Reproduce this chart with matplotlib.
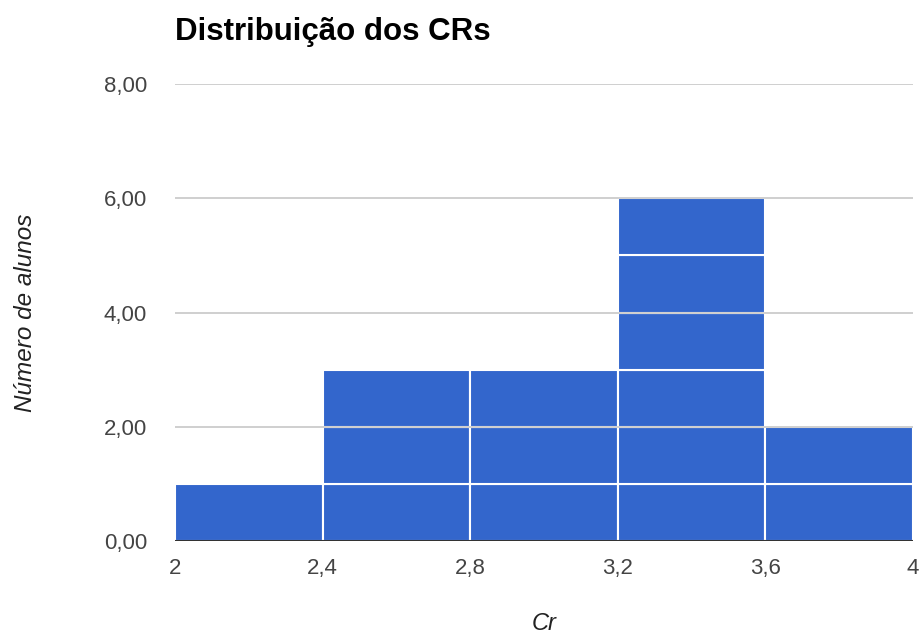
import numpy as np
import matplotlib
matplotlib.use('Agg')
import matplotlib.pyplot as plt

plt.rcParams['font.family'] = ['Liberation Sans', 'DejaVu Sans']

bin_edges = [2.0, 2.4, 2.8, 3.2, 3.6, 4.0]
counts = [1, 3, 3, 6, 2]
x_ticks = [2.0, 2.4, 2.8, 3.2, 3.6, 4.0]
x_tick_labels = ['2', '2,4', '2,8', '3,2', '3,6', '4']
y_ticks = [0, 2, 4, 6, 8]
y_tick_labels = ['0,00', '2,00', '4,00', '6,00', '8,00']

bar_color = '#3366cc'

fig = plt.figure(figsize=(9.2, 6.39), dpi=100)
ax = fig.add_axes([0.1902, 0.1534, 0.8022, 0.7151])

# each student is its own block, stacked like the google histogram
for i, c in enumerate(counts):
    left = bin_edges[i]
    width = bin_edges[i + 1] - bin_edges[i]
    for k in range(c):
        ax.bar(left, 1, width=width, bottom=k, align='edge', color=bar_color,
               edgecolor='white', linewidth=1.5, zorder=2)

for y in y_ticks[1:]:
    ax.axhline(y, color='#cccccc', linewidth=1.3, zorder=3)
ax.axhline(0, color='#333333', linewidth=1.5, zorder=4)

ax.set_xlim(2, 4)
ax.set_ylim(0, 8)
ax.set_xticks(x_ticks)
ax.set_xticklabels(x_tick_labels)
ax.set_yticks(y_ticks)
ax.set_yticklabels(y_tick_labels)
ax.tick_params(axis='both', length=0, labelsize=16, labelcolor='#444444')
ax.tick_params(axis='y', pad=20)
ax.tick_params(axis='x', pad=12)
for s in ax.spines.values():
    s.set_visible(False)

ax.set_xlabel('Cr', fontsize=17, style='italic', color='#222222', labelpad=24)
ax.set_ylabel('Número de alunos', fontsize=17.5, style='italic', color='#222222', labelpad=48)
fig.text(0.1902, 0.937, 'Distribuição dos CRs', fontsize=22.5, fontweight='bold',
         color='#000000', ha='left', va='baseline')

fig.savefig('out.png', dpi=100)
